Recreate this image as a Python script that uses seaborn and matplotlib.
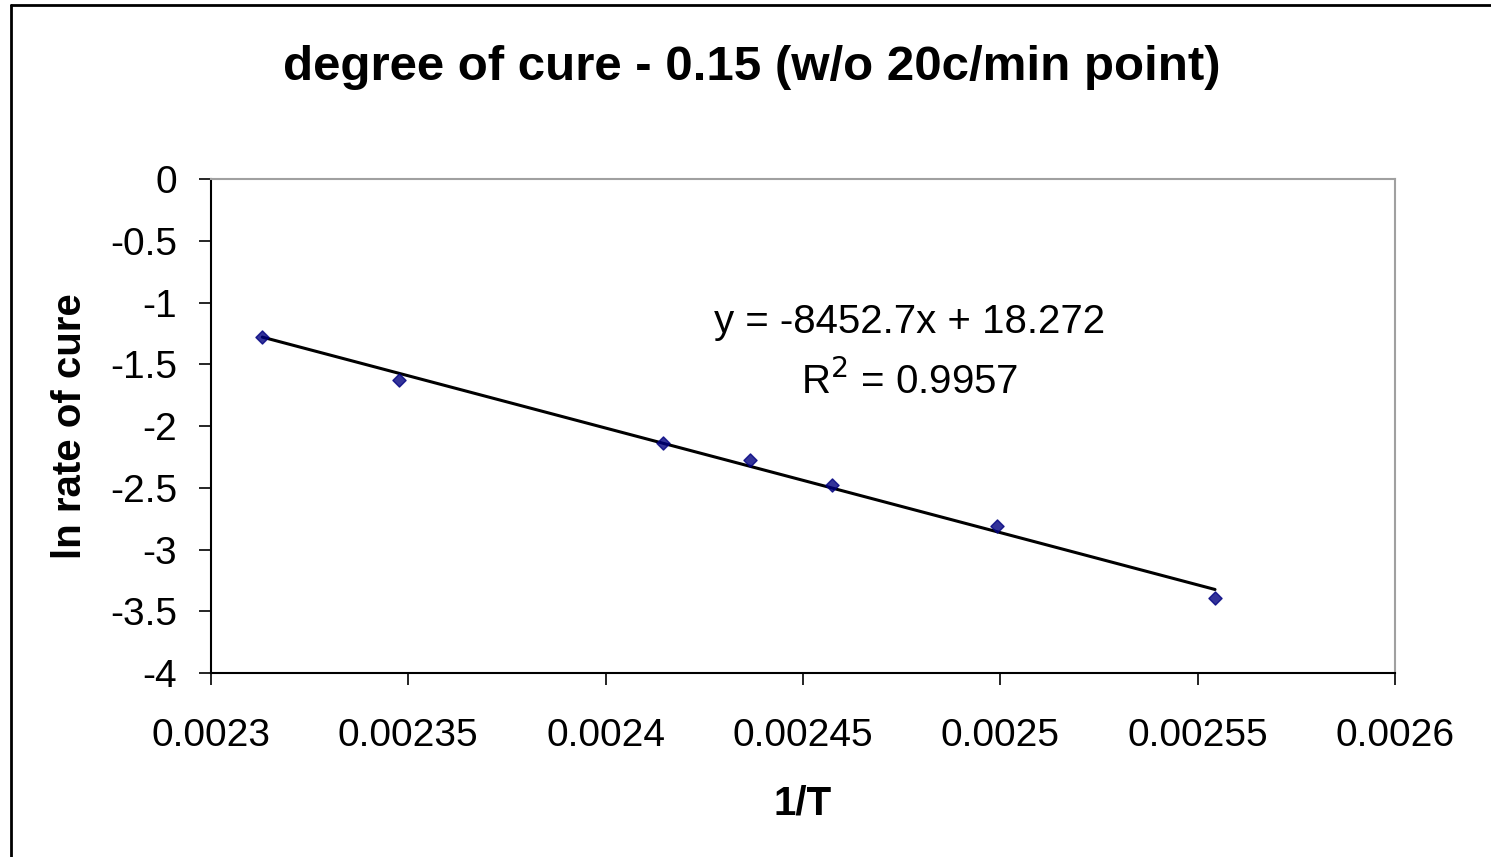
import numpy as np
import pandas as pd
import matplotlib
matplotlib.use("Agg")
import matplotlib.pyplot as plt
import seaborn as sns
from matplotlib.ticker import FuncFormatter, MultipleLocator
from matplotlib.lines import Line2D

# data
inv_T = [0.002313, 0.0023476, 0.0024145, 0.0024366, 0.0024574, 0.0024992, 0.0025544]
ln_rate = [-1.279, -1.628, -2.138, -2.275, -2.478, -2.810, -3.393]

title = "degree of cure - 0.15 (w/o 20c/min point)"
eq_text = "y = -8452.7x + 18.272"
r2_text = "R$^2$ = 0.9957"

sns.set_style("white")
plt.rcParams["font.family"] = ["Liberation Sans", "DejaVu Sans"]
plt.rcParams["axes.unicode_minus"] = False
plt.rcParams["text.color"] = "black"
plt.rcParams["axes.labelcolor"] = "black"
plt.rcParams["xtick.color"] = "black"
plt.rcParams["ytick.color"] = "black"

df = pd.DataFrame({"inv_T": inv_T, "ln_rate": ln_rate})

fig = plt.figure(figsize=(14.91, 8.57), dpi=100)
ax = fig.add_axes([0.1415, 0.2147, 0.7941, 0.5764])

sns.regplot(data=df, x="inv_T", y="ln_rate", ax=ax, ci=None, truncate=True,
            marker="D",
            scatter_kws={"color": "#000080", "s": 45, "zorder": 3},
            line_kws={"color": "black", "lw": 2.2, "zorder": 2})

ax.set_xlim(0.0023, 0.0026)
ax.set_ylim(-4, 0)
ax.xaxis.set_major_locator(MultipleLocator(0.00005))
ax.yaxis.set_major_locator(MultipleLocator(0.5))
ax.xaxis.set_major_formatter(FuncFormatter(lambda v, p: "%g" % round(v, 6)))
ax.yaxis.set_major_formatter(FuncFormatter(lambda v, p: "%g" % round(v, 2)))

ax.tick_params(axis="both", direction="out", length=8.5, width=1.2, color="black",
               labelsize=28, left=True, bottom=True)
ax.tick_params(axis="x", pad=24)
ax.tick_params(axis="y", pad=16)

for s in ["left", "bottom"]:
    ax.spines[s].set_color("black")
    ax.spines[s].set_linewidth(1.5)
for s in ["top", "right"]:
    ax.spines[s].set_color("#a0a0a0")
    ax.spines[s].set_linewidth(1.5)

ax.set_xlabel("1/T", fontsize=29, fontweight="bold", labelpad=22)
ax.set_ylabel("ln rate of cure", fontsize=29, fontweight="bold", labelpad=15)

fig.text(0.504, 1 - 67 / 857, title, fontsize=35.5, fontweight="bold",
         ha="center", va="center")

ax.text(0.59, 0.7105, eq_text, transform=ax.transAxes, fontsize=29,
        ha="center", va="center")
ax.text(0.59, 0.591, r2_text, transform=ax.transAxes, fontsize=29,
        ha="center", va="center")

# outer chart border (top and left edges visible)
fig.add_artist(Line2D([11 / 1491, 11 / 1491], [0, 1 - 5 / 857],
                      transform=fig.transFigure, color="black", lw=2))
fig.add_artist(Line2D([11 / 1491, 1], [1 - 5 / 857, 1 - 5 / 857],
                      transform=fig.transFigure, color="black", lw=2))

fig.savefig("out.png", dpi=100)
